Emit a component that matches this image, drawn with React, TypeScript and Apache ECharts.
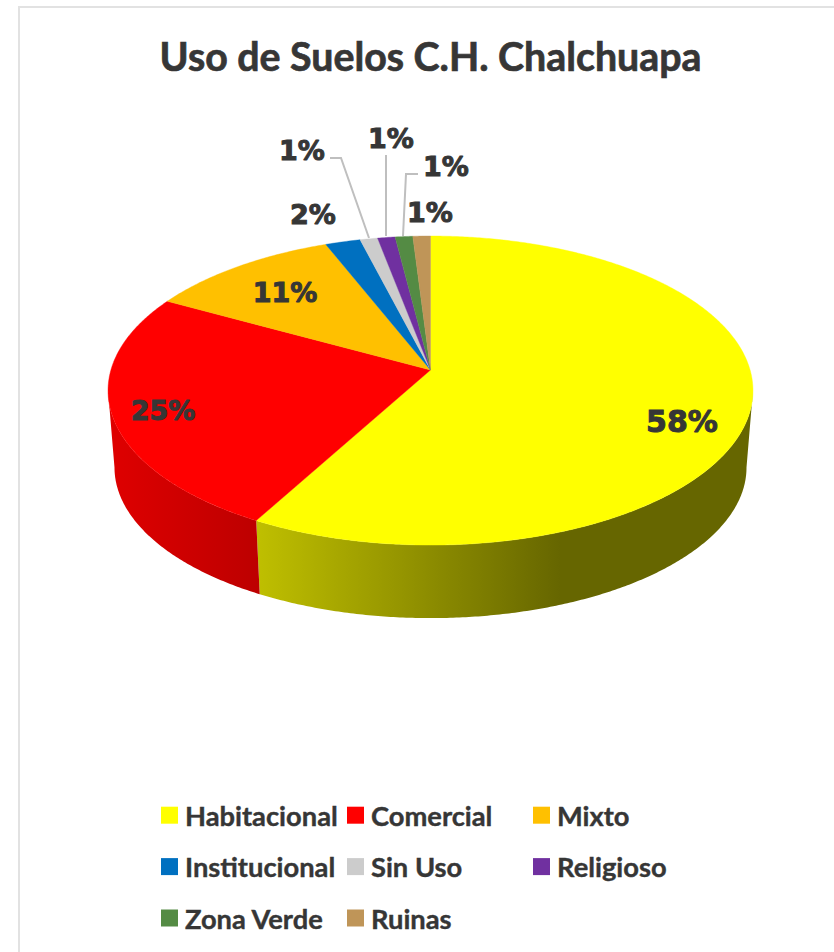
import React, { useEffect, useRef } from "react";
import * as echarts from "echarts";

const categories = ["Habitacional", "Comercial", "Mixto", "Institucional", "Sin Uso", "Religioso", "Zona Verde", "Ruinas"];
const values = [58, 25, 11, 2, 1, 1, 1, 1];
const colors = ["#FFFF00", "#FF0000", "#FFC000", "#0070C0", "#CCCCCC", "#7030A0", "#548B44", "#BF9558"];
const legendColumns = [
  ["Habitacional", "Institucional", "Zona Verde"],
  ["Comercial", "Sin Uso", "Ruinas"],
  ["Mixto", "Religioso"],
];

// Perspective model of the pie disc
const CX = 430.5;
const K = 0.133;
const TOP = { y0: 370, a: 319.6, b: 151.8 };
const BOTTOM = { y0: 447.4, a: 313.2, b: 148 };
const THETA_RIGHT = (Math.acos(-K) * 180) / Math.PI;
const THETA_LEFT = 360 - THETA_RIGHT;

const labelLayout = [
  { x: 682, y: 421, size: 30 },
  { x: 163, y: 410, size: 27 },
  { x: 285, y: 292, size: 27 },
  { x: 313, y: 214, size: 27 },
  { x: 302, y: 150, size: 27 },
  { x: 391, y: 138, size: 27 },
  { x: 446, y: 166, size: 27 },
  { x: 430, y: 212, size: 27 },
];
const leaders: Record<number, number[][]> = {
  4: [[330, 158], [341, 158], [369, 238]],
  5: [[386, 155], [386, 236]],
  6: [[418, 174], [406, 174], [403, 236]],
};

const total = values.reduce((s, v) => s + v, 0);

function project(deg: number, m: { y0: number; a: number; b: number }) {
  const t = (deg * Math.PI) / 180;
  const u = Math.sin(t);
  const v = Math.cos(t);
  const w = 1 + K * v;
  return [CX + (m.a * u) / w, m.y0 - (m.b * v) / w];
}

function arc(from: number, to: number, m: { y0: number; a: number; b: number }) {
  const steps = Math.max(2, Math.ceil(Math.abs(to - from) * 2));
  const pts: number[][] = [];
  for (let i = 0; i <= steps; i++) pts.push(project(from + ((to - from) * i) / steps, m));
  return pts;
}

const sideFills: Record<number, () => any> = {
  0: () =>
    new echarts.graphic.LinearGradient(258, 0, 560, 0, [
      { offset: 0, color: "#BFBF00" },
      { offset: 1, color: "#666600" },
    ], true),
  1: () =>
    new echarts.graphic.LinearGradient(113, 0, 258, 0, [
      { offset: 0, color: "#DE0000" },
      { offset: 1, color: "#BD0000" },
    ], true),
};

function makeRenderItem(index: number) {
  return (_params: any, api: any) => {
    const value = api.value(0);
    const before = values.slice(0, index).reduce((s, v) => s + v, 0);
    const start = (before / total) * 360;
    const end = start + (value / total) * 360;
    const children: any[] = [];

    const sFrom = Math.max(start, THETA_RIGHT);
    const sTo = Math.min(end, THETA_LEFT);
    if (sTo > sFrom) {
      children.push({
        type: "polygon",
        shape: { points: [...arc(sFrom, sTo, TOP), ...arc(sTo, sFrom, BOTTOM)] },
        style: { fill: sideFills[index] ? sideFills[index]() : colors[index] },
      });
    }
    children.push({
      type: "polygon",
      shape: { points: [[CX, TOP.y0], ...arc(start, end, TOP)] },
      style: { fill: colors[index], stroke: colors[index], lineWidth: 0.4 },
    });
    return { type: "group", children };
  };
}

function makeLabelItem(index: number) {
  return (_params: any, api: any) => {
    const l = labelLayout[index];
    const children: any[] = [];
    if (leaders[index]) {
      children.push({
        type: "polyline",
        shape: { points: leaders[index] },
        style: { fill: "none", stroke: "#BFBFBF", lineWidth: 2 },
      });
    }
    children.push({
      type: "text",
      x: l.x,
      y: l.y,
      style: {
        text: `${api.value(0)}%`,
        fill: "#363636",
        stroke: "#363636",
        lineWidth: 1,
        font: `bold ${l.size}px "DejaVu Sans"`,
        align: "center",
        verticalAlign: "middle",
      },
    });
    return { type: "group", children };
  };
}

const columnX = [161, 347, 533];

export default function App() {
  const ref = useRef<HTMLDivElement>(null);

  useEffect(() => {
    const chart = echarts.init(ref.current!, undefined, { renderer: "svg" });
    chart.setOption({
      animation: false,
      backgroundColor: "#FFFFFF",
      color: colors,
      title: {
        text: "Uso de Suelos C.H. Chalchuapa",
        left: 425.5,
        top: 31,
        textAlign: "center",
        textStyle: {
          fontFamily: "Lato",
          fontWeight: "bold",
          fontSize: 39.3,
          color: "#363636",
          textBorderColor: "#363636",
          textBorderWidth: 0.7,
        },
      },
      legend: legendColumns.map((col, i) => ({
        orient: "vertical",
        left: columnX[i],
        top: 801.5,
        data: col,
        icon: "rect",
        itemWidth: 17,
        itemHeight: 17,
        itemGap: 24,
        selectedMode: false,
        padding: 0,
        textStyle: {
          fontFamily: "Lato",
          fontWeight: "bold",
          fontSize: 27.3,
          color: "#363636",
          textBorderColor: "#363636",
          textBorderWidth: 0.4,
          padding: [0, 0, 0, 2],
        },
      })),
      graphic: [
        { type: "line", silent: true, shape: { x1: 18, y1: 7, x2: 834, y2: 7 }, style: { stroke: "#E2E2E2", lineWidth: 2 } },
        { type: "line", silent: true, shape: { x1: 19, y1: 6, x2: 19, y2: 952 }, style: { stroke: "#E2E2E2", lineWidth: 2 } },
      ],
      series: [
        ...categories.map((name, i) => ({
          type: "custom",
          name,
          coordinateSystem: "none",
          itemStyle: { color: colors[i] },
          renderItem: makeRenderItem(i),
          data: [values[i]],
          silent: true,
          z: 2,
        })),
        ...categories.map((name, i) => ({
          type: "custom",
          name: `${name} etiqueta`,
          coordinateSystem: "none",
          renderItem: makeLabelItem(i),
          data: [values[i]],
          silent: true,
          z: 3,
        })),
      ],
    });
    return () => chart.dispose();
  }, []);

  return <div ref={ref} style={{ position: "absolute", left: 0, top: 0, width: 834, height: 952 }} />;
}
